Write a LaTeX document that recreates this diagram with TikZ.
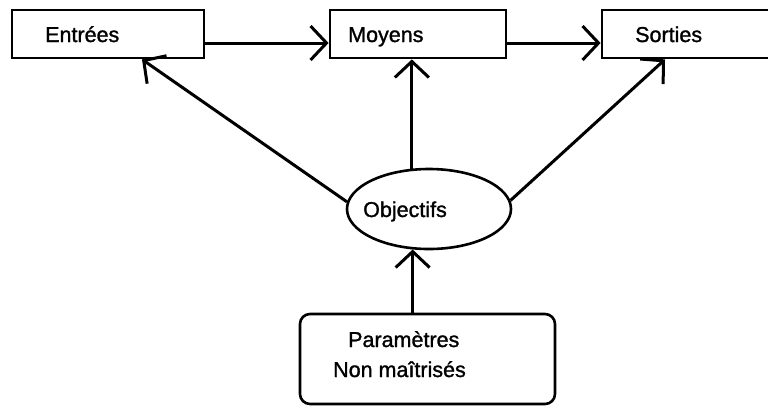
\documentclass[tikz,border=0pt]{standalone}
\usepackage{fontspec}
\setmainfont{Liberation Sans}
\newfontfamily\tagfont{Liberation Sans}[FakeBold=1.3]
\usetikzlibrary{arrows.meta,shapes.geometric}
\begin{document}
\begin{tikzpicture}[x=1pt,y=-1pt,
  box/.style={draw, line width=2.8pt, inner sep=0pt, minimum height=48pt},
  oval/.style={draw, ellipse, line width=2.6pt, inner sep=0pt,
    minimum width=164pt, minimum height=80pt},
  roundbox/.style={draw, line width=2.6pt, inner sep=0pt, rounded corners=10pt},
  lbl/.style={anchor=base west, inner sep=0pt, font=\tagfont\fontsize{21.5}{25}\selectfont},
  link/.style={line width=3pt, -{Straight Barb[length=16pt,width=34pt]}},
]
\useasboundingbox (0,0) rectangle (768,408);

% frames
\node[box, minimum width=192pt] (ent) at (108,34) {};
\node[box, minimum width=176pt] (moy) at (418,34) {};
\node[box, minimum width=178pt] (sor) at (691,34) {};
\node[oval] (obj) at (429,209) {};
\node[roundbox, minimum width=255pt, minimum height=90pt] (par) at (427.5,359) {};

% texts
\node[lbl] (entT) at (45,42) {Entrées};
\node[lbl] (moyT) at (348,42) {Moyens};
\node[lbl] (sorT) at (635,42) {Sorties};
\node[lbl] (objT) at (363,217) {Objectifs};
\node[lbl] (parA) at (348,347) {Paramètres};
\node[lbl] (parB) at (333,377) {Non maîtrisés};

% flow
\draw[link] (ent.east |- 0,43) -- (moy.west |- 0,43);
\draw[link] (moy.east |- 0,43) -- (sor.west |- 0,43);
\draw[link] (obj.175) -- (ent.south -| 142,0);
\draw[link] (obj.113) -- (moy.south -| obj.113);
\draw[link] (obj.6) -- (sor.south -| 665,0);
\draw[link] (par.north -| obj.248) -- (obj.248);
\end{tikzpicture}
\end{document}
